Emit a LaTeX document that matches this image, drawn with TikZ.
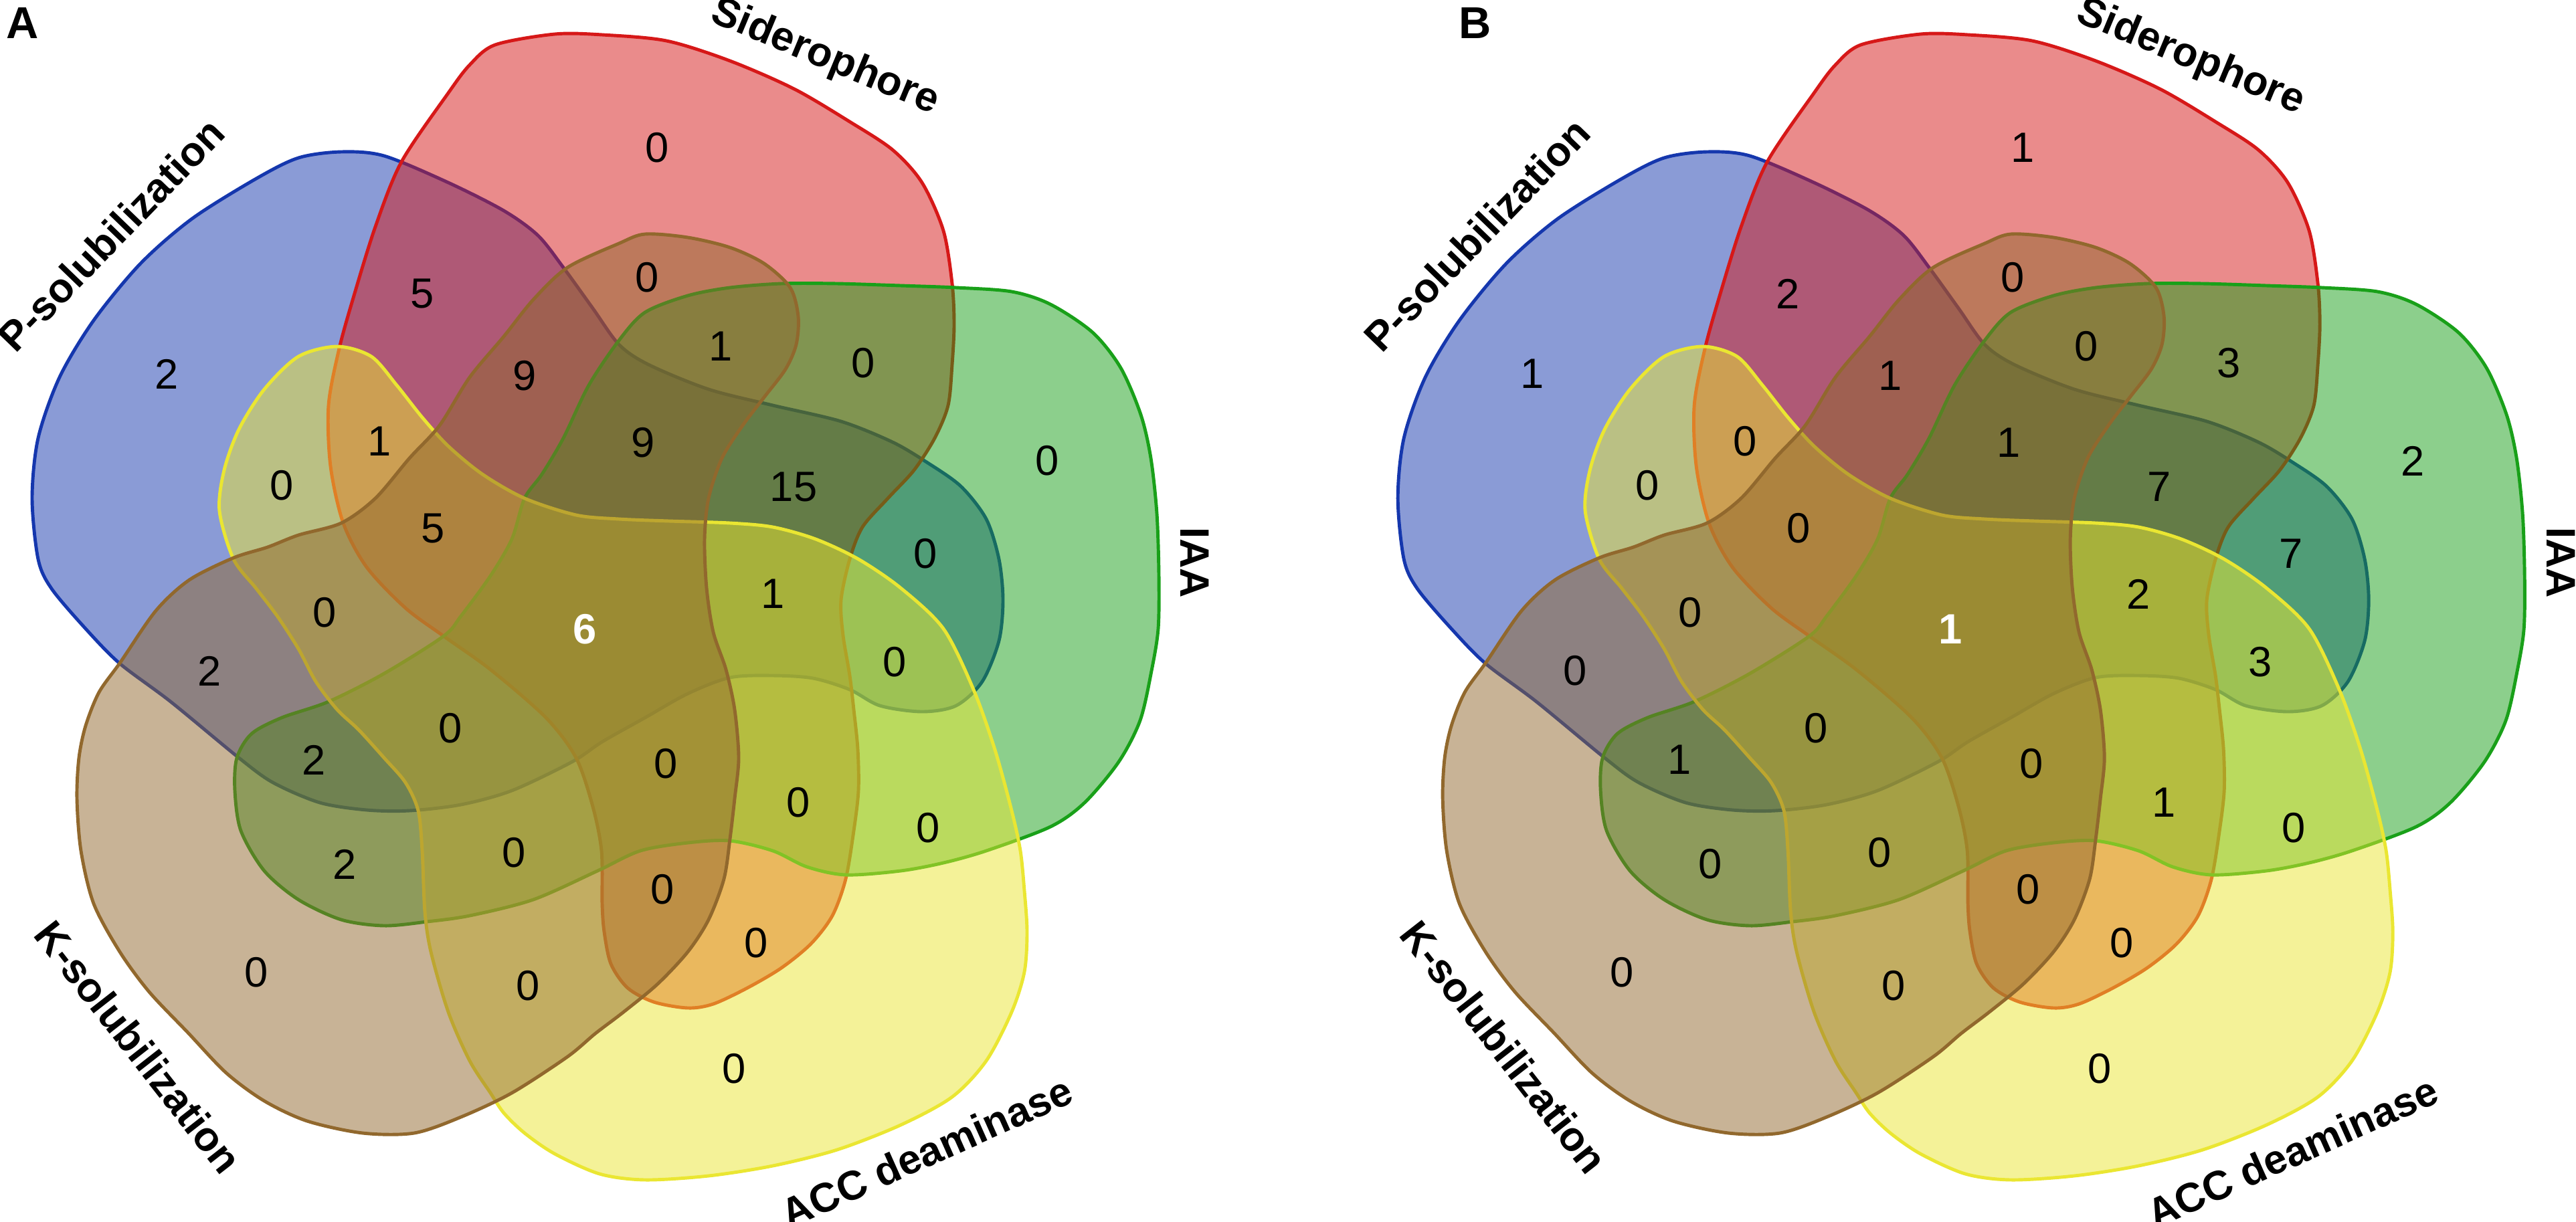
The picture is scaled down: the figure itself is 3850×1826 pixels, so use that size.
\documentclass[tikz,border=0pt]{standalone}
\usepackage{fontspec}
\setmainfont{Liberation Sans}
\definecolor{pBlue}{RGB}{21,55,173}
\definecolor{sRed}{RGB}{214,24,24}
\definecolor{iGreen}{RGB}{25,160,25}
\definecolor{aYellow}{RGB}{234,230,50}
\definecolor{kBrown}{RGB}{145,104,45}

% the five sets of one panel, #1 = prefix of the label names
\newcommand{\vennsets}[1]{%
  %%%%%%%%%%%%% P-solubilization
  \draw[vset, draw=pBlue, fill=pBlue] plot[smooth cycle] coordinates {
    (446,236) (510,227) (574,233) (670,273) (753,315) (804,352) (842,400) (886,461)
    (925,515) (969,545) (1059,582) (1155,606) (1257,630) (1334,661) (1385,691) (1436,727)
    (1474,776) (1493,836) (1499,897) (1493,958) (1468,1019) (1429,1055) (1378,1064)
    (1315,1055) (1270,1031) (1215,1014) (1155,1010) (1091,1013) (1028,1037) (964,1073)
    (900,1109) (855,1139) (765,1182) (689,1203) (612,1212) (548,1211) (478,1200)
    (408,1170) (357,1133) (255,1049) (179,992) (128,940) (77,880) (57,836) (48,745)
    (57,655) (89,564) (140,479) (210,394) (287,327) (383,267)};
  %%%%%%%%%%%%% Siderophore
  \draw[vset, draw=sRed, fill=sRed] plot[smooth cycle] coordinates {
    (740,67) (829,51) (900,52) (996,61) (1091,91) (1187,133) (1270,182) (1334,224)
    (1378,273) (1410,345) (1423,424) (1426,485) (1423,545) (1417,606) (1397,655)
    (1366,703) (1327,745) (1289,788) (1270,836) (1257,897) (1260,950) (1270,1010)
    (1276,1061) (1282,1120) (1283,1182) (1276,1242) (1264,1314) (1244,1369) (1212,1411)
    (1168,1447) (1117,1477) (1066,1501) (1028,1507) (977,1498) (938,1477) (913,1441)
    (903,1393) (900,1351) (899,1272) (886,1206) (861,1133) (816,1073) (733,1001)
    (663,951) (606,909) (548,848) (513,782) (494,697) (491,606) (507,521) (529,442)
    (561,339) (600,242) (670,139) (702,97)};
  %%%%%%%%%%%%% IAA
  \draw[vset, draw=iGreen, fill=iGreen] plot[smooth cycle] coordinates {
    (1028,442) (1091,430) (1168,424) (1251,424) (1346,427) (1429,430) (1512,436)
    (1570,455) (1633,497) (1675,550) (1705,620) (1720,685) (1729,768) (1732,860)
    (1731,940) (1721,1003) (1704,1077) (1672,1139) (1621,1200) (1570,1236) (1474,1272)
    (1410,1290) (1346,1302) (1264,1308) (1206,1296) (1155,1272) (1091,1257) (1028,1260)
    (957,1272) (893,1302) (797,1345) (702,1369) (638,1378) (574,1384) (510,1375)
    (446,1345) (395,1302) (360,1242) (351,1182) (354,1133) (376,1097) (421,1073)
    (491,1049) (574,1007) (663,951) (689,921) (733,861) (765,806) (784,745) (810,709)
    (842,655) (880,576) (925,509) (964,467)};
  %%%%%%%%%%%%% ACC deaminase
  \draw[vset, draw=aYellow, fill=aYellow] plot[smooth cycle] coordinates {
    (504,518) (555,533) (593,576) (631,624) (670,667) (721,709) (784,745) (861,770)
    (925,776) (1000,779) (1091,782) (1155,788) (1219,806) (1283,836) (1346,879)
    (1410,940) (1455,1031) (1487,1121) (1512,1212) (1525,1272) (1531,1332) (1535,1393)
    (1531,1453) (1512,1513) (1474,1586) (1423,1640) (1346,1682) (1251,1719) (1155,1743)
    (1059,1758) (964,1764) (896,1755) (829,1725) (784,1694) (753,1664) (733,1634)
    (702,1586) (670,1513) (644,1423) (635,1363) (631,1272) (625,1212) (606,1170)
    (574,1133) (536,1091) (504,1061) (472,1019) (446,970) (415,922) (383,880) (349,836)
    (328,764) (335,703) (357,642) (395,582) (446,533)};
  %%%%%%%%%%%%% K-solubilization
  \draw[vset, draw=kBrown, fill=kBrown] plot[smooth cycle] coordinates {
    (964,350) (1028,355) (1091,370) (1142,394) (1181,430) (1193,473) (1190,515)
    (1174,552) (1142,594) (1110,636) (1079,685) (1059,745) (1053,806) (1056,879)
    (1066,945) (1085,1001) (1098,1061) (1104,1133) (1098,1194) (1091,1254) (1082,1314)
    (1059,1375) (1028,1423) (983,1471) (932,1513) (890,1545) (848,1580) (765,1634)
    (689,1670) (619,1694) (542,1694) (459,1676) (395,1646) (338,1604) (281,1544)
    (223,1483) (179,1423) (140,1351) (121,1272) (115,1194) (118,1133) (128,1085)
    (148,1035) (180,990) (233,913) (283,867) (349,834) (400,818) (446,800) (510,782)
    (561,745) (612,685) (657,636) (702,564) (753,503) (797,448) (848,400) (925,364)};
  %%%%%%%%%%%%% set names
  \node[setlabel, rotate=46] (#1-p) at (166,351) {P-solubilization};
  \node[setlabel, rotate=-22.6] (#1-s) at (1233,86) {Siderophore};
  \node[setlabel, rotate=-90] (#1-i) at (1786,841) {IAA};
  \node[setlabel, rotate=24] (#1-a) at (1385,1722) {ACC deaminase};
  \node[setlabel, rotate=-52] (#1-k) at (207,1565) {K-solubilization};
}

\begin{document}
\begin{tikzpicture}[x=0.01cm, y=-0.01cm,
  vset/.style={line width=1.4pt, fill opacity=0.5},
  num/.style={font=\fontsize{18}{20}\selectfont, inner sep=0pt},
  core/.style={font=\bfseries\fontsize{18}{20}\selectfont, text=white, inner sep=0pt},
  setlabel/.style={font=\bfseries\fontsize{17.5}{20}\selectfont, inner sep=0pt},
  panel/.style={font=\bfseries\fontsize{19}{22}\selectfont, inner sep=0pt}]
  \useasboundingbox (0,0) rectangle (3850,1826);
  %%%%%%%%%%%%% panel A
  \begin{scope}
    \vennsets{a}
    \node[panel] (lblA) at (34,35) {A};
    \node[num] (a1) at (249,559) {2};
    \node[num] (a2) at (982,221) {0};
    \node[num] (a3) at (1565,689) {0};
    \node[num] (a4) at (1097,1598) {0};
    \node[num] (a5) at (383,1454) {0};
    \node[num] (a6) at (631,439) {5};
    \node[num] (a7) at (967,415) {0};
    \node[num] (a8) at (784,562) {9};
    \node[num] (a9) at (1077,518) {1};
    \node[num] (a10) at (1290,543) {0};
    \node[num] (a11) at (567,660) {1};
    \node[num] (a12) at (421,726) {0};
    \node[num] (a13) at (961,662) {9};
    \node[num] (a14) at (1186,728) {15};
    \node[num] (a15) at (647,790) {5};
    \node[num] (a16) at (1383,828) {0};
    \node[num] (a17) at (1155,888) {1};
    \node[num] (a18) at (485,916) {0};
    \node[core] (a19) at (874,941) {6};
    \node[num] (a20) at (313,1003) {2};
    \node[num] (a21) at (1337,990) {0};
    \node[num] (a22) at (673,1089) {0};
    \node[num] (a23) at (469,1136) {2};
    \node[num] (a24) at (995,1142) {0};
    \node[num] (a25) at (1193,1200) {0};
    \node[num] (a26) at (1387,1238) {0};
    \node[num] (a27) at (515,1292) {2};
    \node[num] (a28) at (768,1275) {0};
    \node[num] (a29) at (990,1330) {0};
    \node[num] (a30) at (1130,1410) {0};
    \node[num] (a31) at (789,1474) {0};
  \end{scope}
  %%%%%%%%%%%%% panel B
  \node[panel] (lblB) at (2205,35) {B};
  \begin{scope}[xshift=20.4cm]
    \vennsets{b}
    \node[num] (b1) at (249,559) {1};
    \node[num] (b2) at (982,221) {1};
    \node[num] (b3) at (1565,689) {2};
    \node[num] (b4) at (1097,1598) {0};
    \node[num] (b5) at (383,1454) {0};
    \node[num] (b6) at (631,439) {2};
    \node[num] (b7) at (967,415) {0};
    \node[num] (b8) at (784,562) {1};
    \node[num] (b9) at (1077,518) {0};
    \node[num] (b10) at (1290,543) {3};
    \node[num] (b11) at (567,660) {0};
    \node[num] (b12) at (421,726) {0};
    \node[num] (b13) at (961,662) {1};
    \node[num] (b14) at (1186,728) {7};
    \node[num] (b15) at (647,790) {0};
    \node[num] (b16) at (1383,828) {7};
    \node[num] (b17) at (1155,888) {2};
    \node[num] (b18) at (485,916) {0};
    \node[core] (b19) at (874,941) {1};
    \node[num] (b20) at (313,1003) {0};
    \node[num] (b21) at (1337,990) {3};
    \node[num] (b22) at (673,1089) {0};
    \node[num] (b23) at (469,1136) {1};
    \node[num] (b24) at (995,1142) {0};
    \node[num] (b25) at (1193,1200) {1};
    \node[num] (b26) at (1387,1238) {0};
    \node[num] (b27) at (515,1292) {0};
    \node[num] (b28) at (768,1275) {0};
    \node[num] (b29) at (990,1330) {0};
    \node[num] (b30) at (1130,1410) {0};
    \node[num] (b31) at (789,1474) {0};
  \end{scope}
\end{tikzpicture}
\end{document}
